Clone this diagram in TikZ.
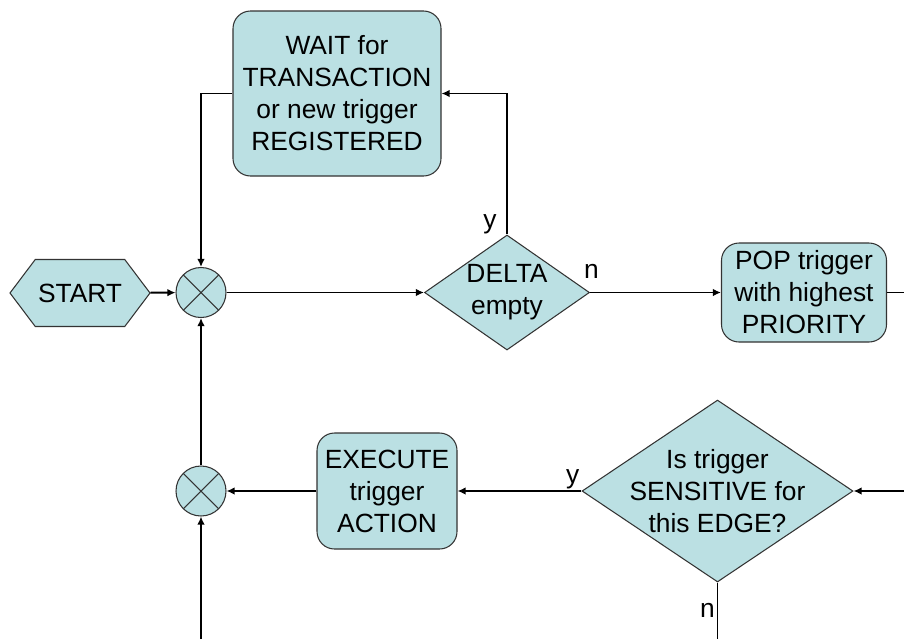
\documentclass[tikz,border=0pt]{standalone}
\usepackage{fontspec}
\setmainfont{Liberation Sans}
\usetikzlibrary{shapes.geometric, shapes.symbols, arrows.meta, positioning, calc}
\definecolor{nodefill}{HTML}{BBE0E3}
\definecolor{nodeline}{HTML}{333333}

\begin{document}
\begin{tikzpicture}[
    txt/.style={font=\fontsize{15}{18.2}\selectfont},
    base/.style={txt, draw=nodeline, fill=nodefill, line width=0.6pt, align=center},
    procbox/.style={base, rectangle, rounded corners=0.35cm, inner sep=0pt},
    decision/.style={base, diamond, inner sep=-0.35cm},
    terminal/.style={base, signal, signal to=east and west, signal pointer angle=106, inner sep=0pt, minimum width=2.8cm, minimum height=1.34cm},
    junction/.style={base, circle, inner sep=0pt, minimum size=1cm,
        path picture={\draw[nodeline, line width=0.6pt] (path picture bounding box.north west) -- (path picture bounding box.south east)
            (path picture bounding box.north east) -- (path picture bounding box.south west);}},
    flow/.style={line width=1.1pt, -{Latex[length=1.6mm, width=1.5mm]}},
    plain/.style={line width=1.1pt},
    lbl/.style={txt, inner sep=1pt},
]
\useasboundingbox (0,0) rectangle (18.08,-12.78);

% nodes
\node[terminal] (start) at (1.6,-5.86) {START};
\node[junction] (jtop) at (4.02,-5.85) {};
\node[junction] (jbot) at (4.02,-9.82) {};
\node[procbox, minimum width=4.16cm, minimum height=3.3cm] (wait) at (6.74,-1.87) {WAIT for\\TRANSACTION\\or new trigger\\REGISTERED};
\node[decision, shape aspect=1.43, minimum width=3.3cm, minimum height=2.3cm] (delta) at (10.14,-5.85) {DELTA\\empty};
\node[procbox, minimum width=3.3cm, minimum height=1.98cm] (pop) at (16.08,-5.85) {POP trigger\\with highest\\PRIORITY};
\node[procbox, minimum width=2.8cm, minimum height=2.32cm] (exec) at (7.74,-9.82) {EXECUTE\\trigger\\ACTION};
\node[decision, shape aspect=1.49, minimum width=5.42cm, minimum height=3.64cm] (sens) at (14.35,-9.82) {Is trigger\\SENSITIVE for\\this EDGE?};

% loose ends at the picture border
\coordinate (popout) at (18.08,-5.85);
\coordinate (sensin) at (18.08,-9.82);
\coordinate (sensout) at (14.35,-12.78);
\coordinate (jbotin) at (4.02,-12.78);

% connectors
\draw[flow] (start) -- (jtop);
\draw[flow] (jtop) -- (delta);
\draw[flow] (delta) -- (pop);
\draw[plain] (pop) -- (popout);
\draw[flow] (delta.north) |- (wait.east);
\draw[flow] (wait.west) -| (jtop.north);
\draw[flow] (sensin) -- (sens.east);
\draw[flow] (sens.west) -- (exec.east);
\draw[flow] (exec.west) -- (jbot.east);
\draw[flow] (jbot.north) -- (jtop.south);
\draw[flow] (jbotin) -- (jbot.south);
\draw[plain] (sens.south) -- (sensout) node[lbl, pos=0.5, left] {n};

% branch labels
\node[lbl] at ($(delta.north)+(-0.34,0.2)$) {y};
\node[lbl] at ($(delta.east)+(0.03,0.42)$) {n};
\node[lbl, anchor=south east] at (sens.west) {y};
\end{tikzpicture}
\end{document}
